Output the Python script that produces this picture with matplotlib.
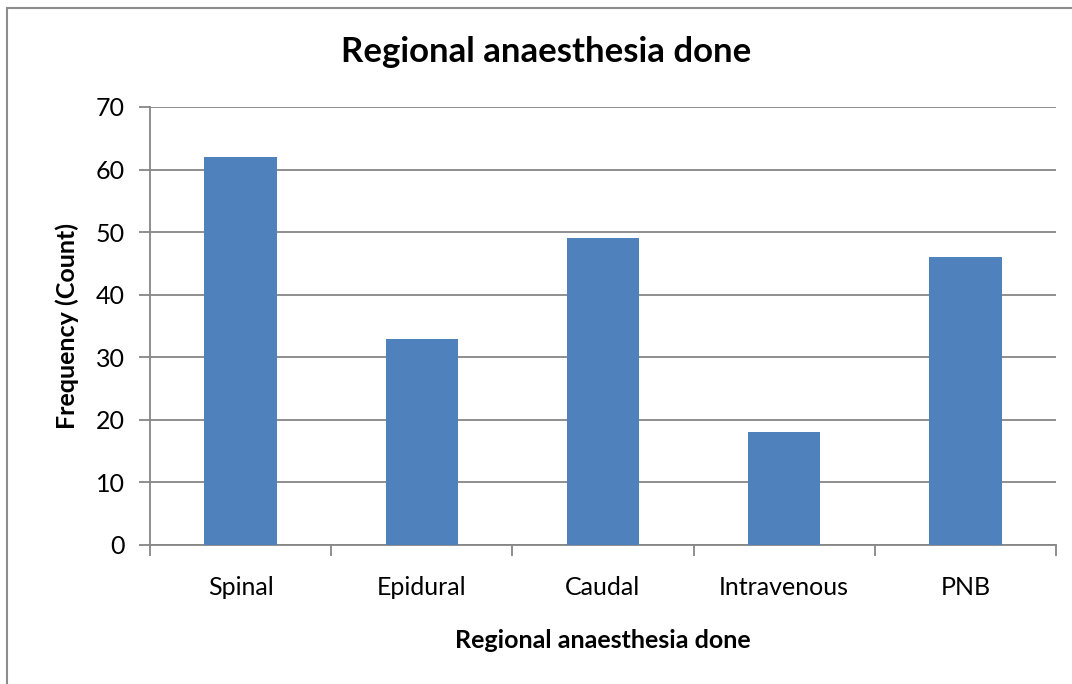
import matplotlib.pyplot as plt
import numpy as np
from matplotlib.patches import Rectangle

# data
categories = ['Spinal', 'Epidural', 'Caudal', 'Intravenous', 'PNB']
counts = [62, 33, 49, 18, 46]
y_ticks = [0, 10, 20, 30, 40, 50, 60, 70]

plt.rcParams['font.family'] = ['Lato', 'DejaVu Sans']

W, H = 1072, 684
fig = plt.figure(figsize=(W / 100, H / 100), dpi=100)
fig.patch.set_facecolor('white')

# outer chart frame (left/top visible)
fig.add_artist(Rectangle((7 / W, -0.02), 1.1, (H - 8) / H + 0.02,
                         transform=fig.transFigure, fill=False,
                         edgecolor='#8c8c8c', linewidth=1.5))

ax = fig.add_axes([150 / W, 1 - 545 / H, (1056 - 150) / W, (545 - 107) / H])

x = np.arange(len(categories))
ax.bar(x, counts, width=0.4, color='#4f81bd', zorder=3)

ax.set_xlim(-0.5, len(categories) - 0.5)
ax.set_ylim(0, 70)
ax.set_yticks(y_ticks)
ax.yaxis.grid(True, color='#868686', linewidth=1.3, zorder=0)

grey = '#868686'
for side in ['top', 'right']:
    ax.spines[side].set_visible(False)
for side in ['left', 'bottom']:
    ax.spines[side].set_color(grey)
    ax.spines[side].set_linewidth(1.3)

# category boundaries as major ticks, labels as minor ticks
ax.set_xticks(np.arange(-0.5, len(categories), 1.0))
ax.set_xticklabels([])
ax.set_xticks(x, minor=True)
ax.set_xticklabels(categories, minor=True, fontsize=18)
ax.tick_params(axis='x', which='major', length=8, color=grey, width=1.3)
ax.tick_params(axis='x', which='minor', length=0, pad=22)
ax.tick_params(axis='y', length=8, color=grey, width=1.3, labelsize=18, pad=10)

ax.set_xlabel('Regional anaesthesia done', fontsize=18, fontweight='bold', labelpad=22)
ax.set_ylabel('Frequency (Count)', fontsize=18, fontweight='bold', labelpad=12)
fig.text(546 / W, 1 - 52 / H, 'Regional anaesthesia done',
         ha='center', va='center', fontsize=25, fontweight='bold')

fig.savefig('out.png', dpi=100)
